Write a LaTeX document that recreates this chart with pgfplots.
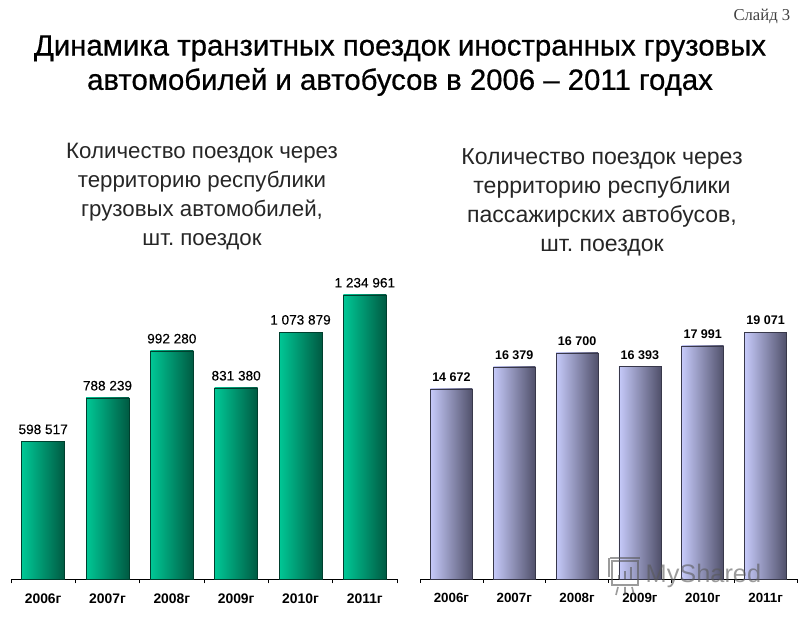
\documentclass[border=0pt]{standalone}
\usepackage{fontspec}
\setmainfont{Liberation Sans}
\newfontfamily\serifff{Liberation Serif}
\newfontfamily\ttlf[FakeBold=0.6]{Liberation Sans}
\newfontfamily\lblf[FakeBold=0.2]{Liberation Sans}
\usepackage{pgfplots}
\pgfplotsset{compat=1.18}
\frenchspacing
\definecolor{gl}{HTML}{00C896}
\definecolor{gm}{HTML}{00A67C}
\definecolor{gr}{HTML}{005A42}
\definecolor{pl}{HTML}{C6CAFA}
\definecolor{pm}{HTML}{A0A4D0}
\definecolor{pr}{HTML}{50506A}
\newcommand{\ttl}[3]{%
  \node[text=black,font=\ttlf\fontsize{#3}{#3}\selectfont] at (400,#1) {#2};}
\pgfplotsset{common/.style={
  scale only axis, anchor=south west, clip=false,
  ymin=0, xmin=-0.5, xmax=5.5,
  axis x line*=bottom, axis y line=none,
  axis line style={-, black, line width=0.6pt},
  xtick={0,1,2,3,4,5},
  xticklabels={2006г,2007г,2008г,2009г,2010г,2011г},
  minor xtick={-0.5,0.5,1.5,2.5,3.5,4.5,5.5},
  major tick length=0pt, minor tick length=3pt,
  tick style={black, line width=0.5pt},
  xtick align=outside,
  ybar=0pt, /pgf/bar shift=0pt, point meta=explicit symbolic,
  nodes near coords, every node near coord/.append style={text=black, inner sep=1.5pt, yshift=3.8pt},
}}
\pgfplotsset{gbar/.style={draw=gr!70!black, line width=0.5pt, left color=gl, middle color=gm, right color=gr},
 pbar/.style={draw=pr!70!black, line width=0.5pt, left color=pl, middle color=pm, right color=pr}}
\begin{document}
\begin{tikzpicture}[x=0.75pt,y=0.75pt]
\path[use as bounding box] (0,0) rectangle (800,617);
\node[anchor=east,font=\serifff\fontsize{12.5}{12.5}\selectfont,text=black!75] at (795,600.5) {Слайд 3};
\ttl{568.5}{Динамика транзитных поездок иностранных грузовых}{22}
\ttl{535}{автомобилей и автобусов в 2006 – 2011 годах}{22}
\node[align=center,font=\fontsize{16.7}{21.75}\selectfont,text=black!85] at (202,420.2) {Количество поездок через\\территорию республики\\грузовых автомобилей,\\шт. поездок};
\node[align=center,font=\fontsize{17.3}{21.75}\selectfont,text=black!85] at (602,415) {Количество поездок через\\территорию республики\\пассажирских автобусов,\\шт. поездок};
\begin{axis}[common, at={(8.25pt,28.125pt)}, width=289.5pt, height=225pt, ymax=1302245,
  bar width=32.25pt,
  xticklabel style={font=\bfseries\fontsize{10.4}{10.4}\selectfont, yshift=-7pt},
  every node near coord/.append style={font=\lblf\fontsize{10.2}{10.2}\selectfont}]
\addplot[gbar] coordinates {(0,598517) [{598 517}]};
\addplot[gbar] coordinates {(1,788239) [{788 239}]};
\addplot[gbar] coordinates {(2,992280) [{992 280}]};
\addplot[gbar] coordinates {(3,831380) [{831 380}]};
\addplot[gbar] coordinates {(4,1073879) [{1 073 879}]};
\addplot[gbar] coordinates {(5,1234961) [{1 234 961}]};
\end{axis}
\begin{axis}[common, at={(315pt,28.5pt)}, width=282.75pt, height=225pt, ymax=23164,
  bar width=31.5pt,
  xticklabel style={font=\bfseries\fontsize{10}{10}\selectfont, yshift=-7pt},
  every node near coord/.append style={font=\bfseries\fontsize{9.4}{9.4}\selectfont}]
\addplot[pbar] coordinates {(0,14672) [{14 672}]};
\addplot[pbar] coordinates {(1,16379) [{16 379}]};
\addplot[pbar] coordinates {(2,17450) [{16 700}]};
\addplot[pbar] coordinates {(3,16393) [{16 393}]};
\addplot[pbar] coordinates {(4,17991) [{17 991}]};
\addplot[pbar] coordinates {(5,19071) [{19 071}]};
\end{axis}
\node[anchor=west,opacity=.6,text=black!65,font=\fontsize{19}{19}\selectfont] at (641,41) {MyShared};
\begin{scope}[opacity=.6,draw=black!65,line width=1.2pt]
\draw (612,32) rectangle (638,56);
\draw (610,59) -- (640,59);
\draw (609,59) -- (609,40);
\draw[line width=1.8pt] (619,38)--(619,42) (625,38)--(625,46) (631,38)--(631,50);
\draw (618,30)--(616,22) (625,30)--(625,22) (632,30)--(634,22);
\end{scope}
\end{tikzpicture}
\end{document}
